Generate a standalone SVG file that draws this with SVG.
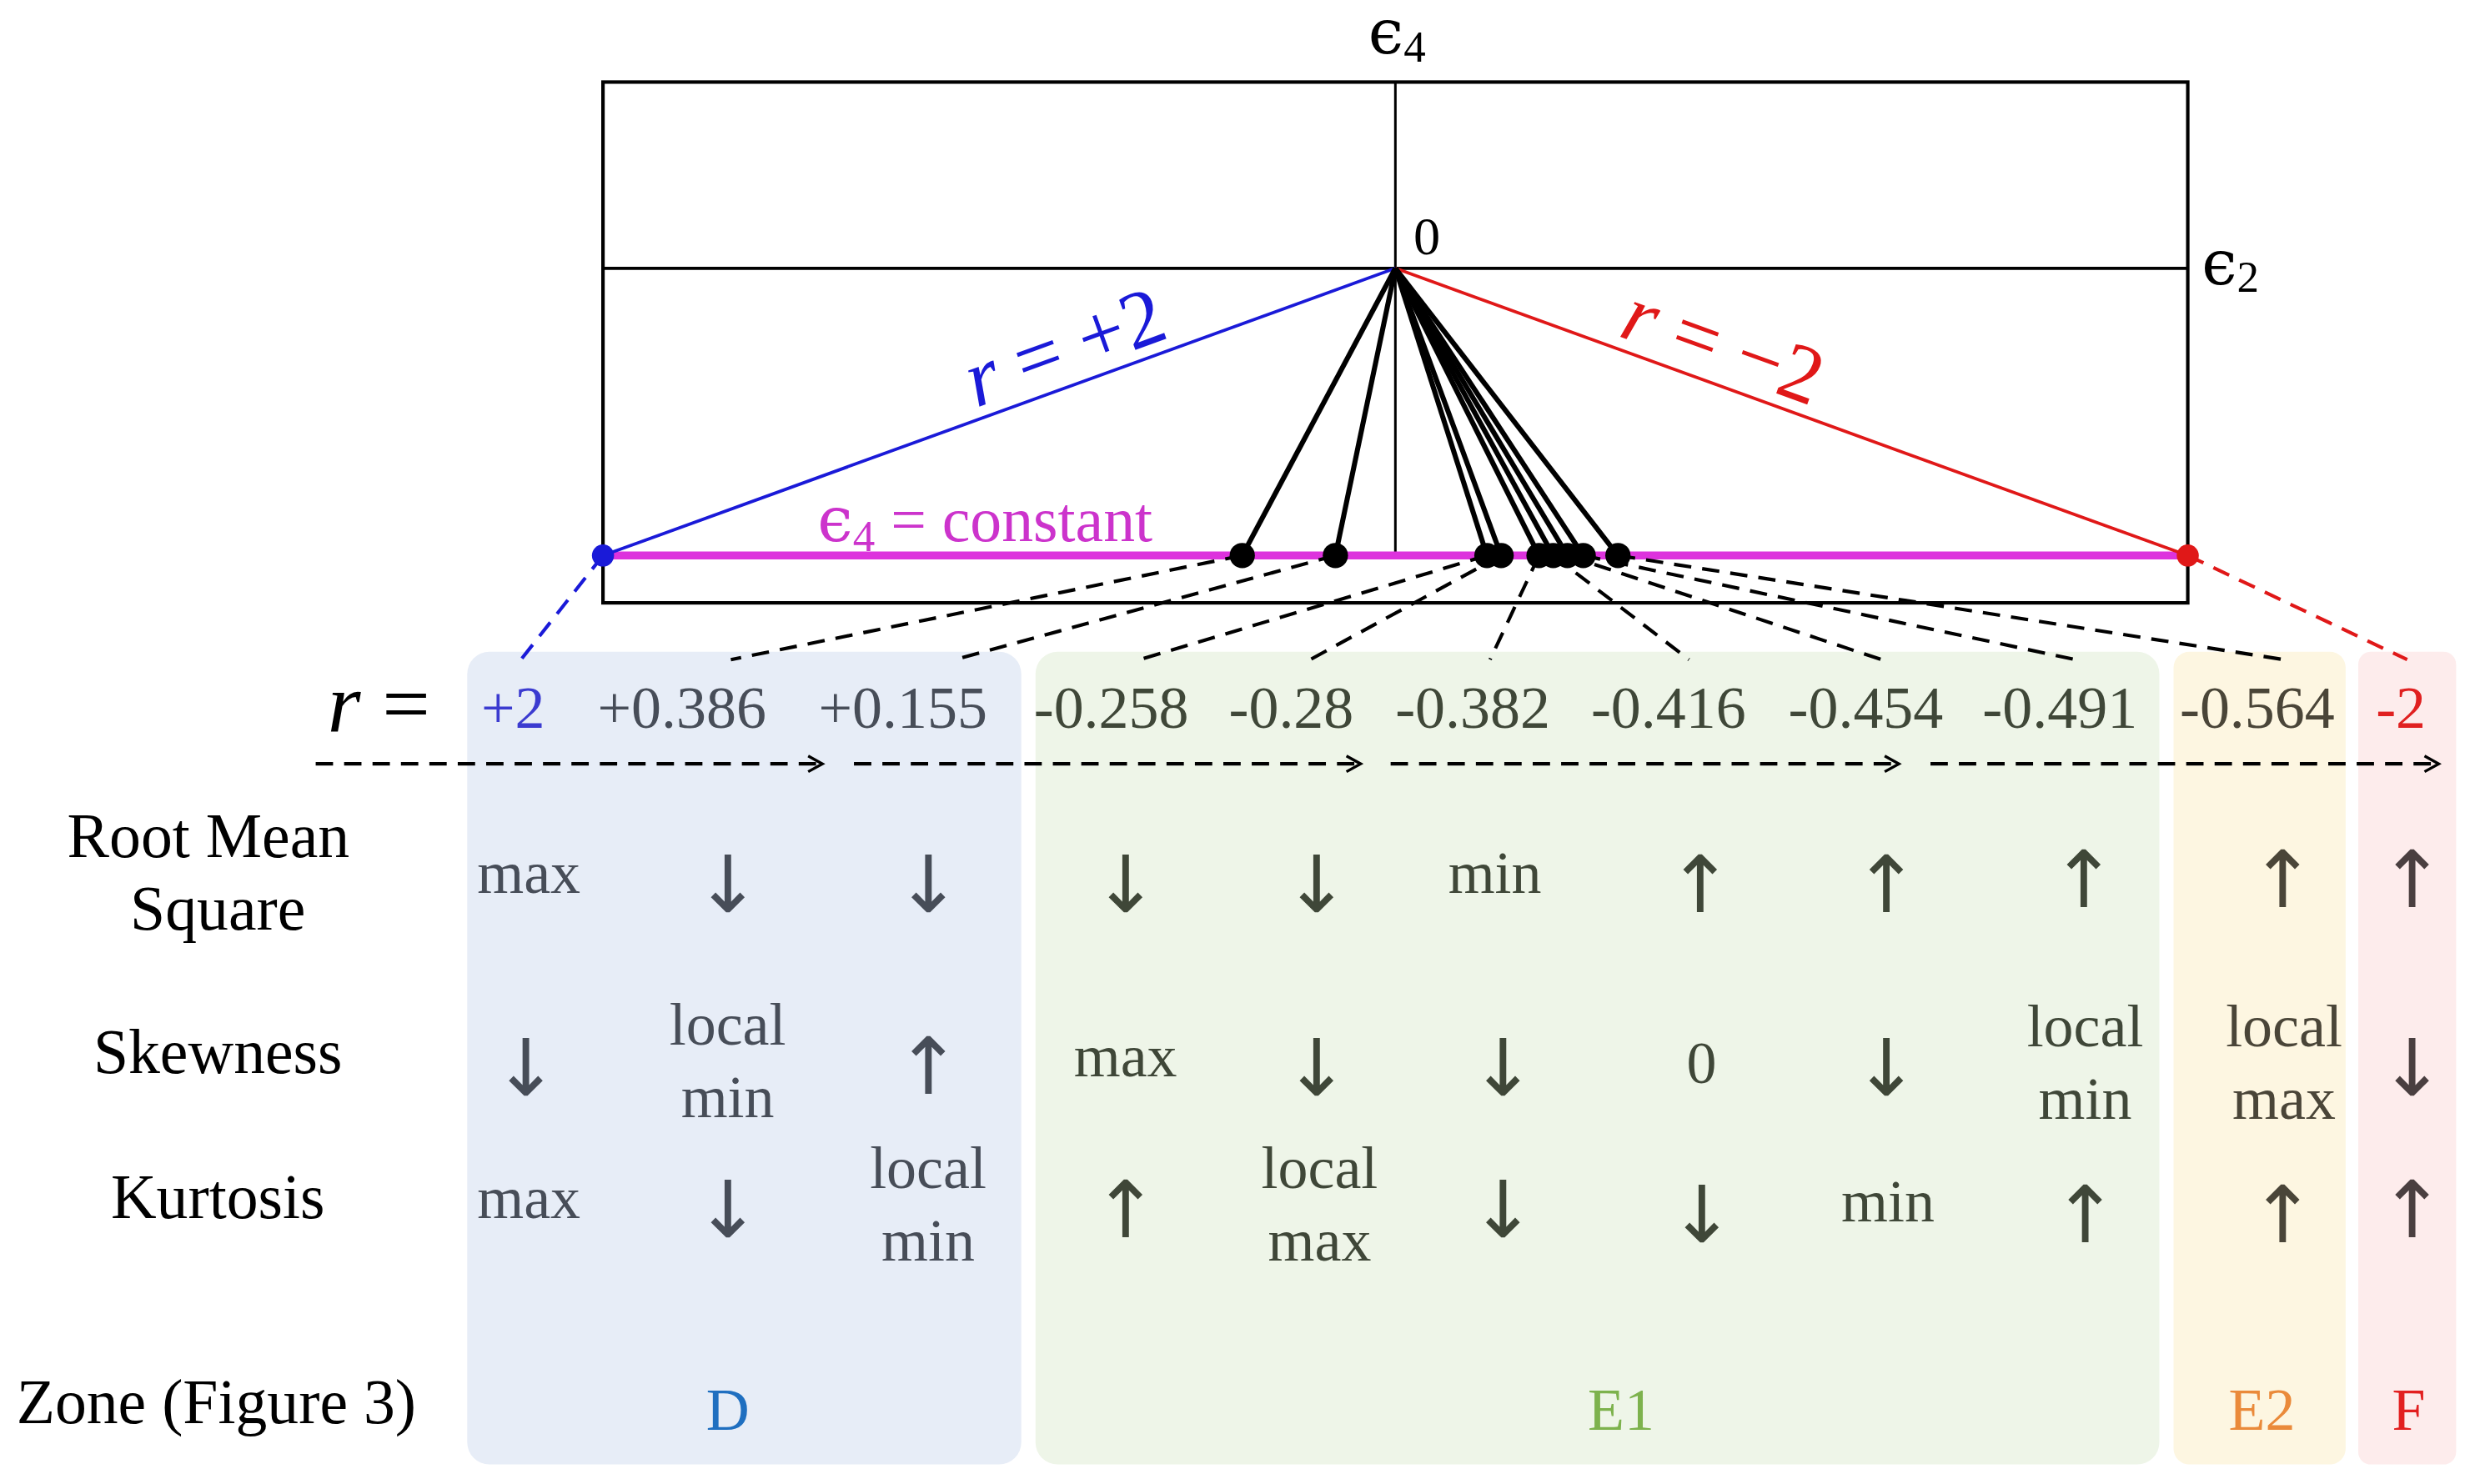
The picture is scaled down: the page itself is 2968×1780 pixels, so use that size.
<svg xmlns="http://www.w3.org/2000/svg" width="2968" height="1780" viewBox="0 0 2968 1780">
<style>
text{font-family:"Liberation Serif","DejaVu Serif",serif;text-anchor:middle}
.ep{font-family:"DejaVu Serif",serif}
.c{font-size:38px}
.lb{font-size:40px;fill:#000}
.ar{font-family:"DejaVu Sans",sans-serif;font-size:50px}
.bz{fill:#474d58}.gz{fill:#3f4738}.yz{fill:#4a4538}.pz{fill:#4a3f40}
.d{stroke:#000;stroke-width:2.2;stroke-dasharray:11 7;fill:none}
.sp{stroke:#000;stroke-width:3.2}
</style>
<defs><marker id="ah" markerWidth="12" markerHeight="12" refX="10" refY="6" orient="auto" markerUnits="userSpaceOnUse"><path d="M1,1 L10,6 L1,11" fill="none" stroke="#000" stroke-width="1.8"/></marker></defs>
<rect width="2968" height="1780" fill="#fff"/>
<g transform="scale(1.8929)">
<g id="zones">
<rect x="296" y="413" width="351" height="515" rx="14" fill="#e7edf7"/>
<rect x="656" y="413" width="712" height="515" rx="14" fill="#eef5e8"/>
<rect x="1377" y="413" width="109" height="515" rx="10" fill="#fdf6e1"/>
<rect x="1494" y="413" width="62" height="515" rx="8" fill="#fdecec"/>
</g>
<g id="chart">
<rect x="382" y="52" width="1004" height="330" fill="none" stroke="#000" stroke-width="2.2"/>
<line x1="382" y1="170" x2="1386" y2="170" stroke="#000" stroke-width="2"/>
<line x1="884" y1="52" x2="884" y2="352" stroke="#000" stroke-width="1.6"/>
<line x1="382" y1="352" x2="1386" y2="352" stroke="#dd33dd" stroke-width="5"/>
<line x1="884" y1="170" x2="382" y2="352" stroke="#1a1ad8" stroke-width="2"/>
<line x1="884" y1="170" x2="1386" y2="352" stroke="#e01818" stroke-width="2"/>
<text x="885" y="34" style="font-size:40px"><tspan class="ep">ϵ</tspan><tspan style="font-size:28px" dy="5">4</tspan></text>
<text x="904" y="161" style="font-size:34px">0</text>
<text x="1413" y="180" style="font-size:40px"><tspan class="ep">ϵ</tspan><tspan style="font-size:28px" dy="5">2</tspan></text>
<text transform="translate(680,236) rotate(-19.9)" style="font-size:52px;fill:#1a1ad8"><tspan font-style="italic">r</tspan> = +2</text>
<text transform="translate(1086,235) rotate(19.9)" style="font-size:52px;fill:#e01818"><tspan font-style="italic">r</tspan> = −2</text>
<text x="624" y="343" style="font-size:40px;fill:#cc33cc"><tspan class="ep">ϵ</tspan><tspan style="font-size:28px" dy="6">4</tspan><tspan dy="-6"> = constant</tspan></text>
</g>
<g id="connectors">
<line class="sp" x1="884" y1="170" x2="787" y2="352"/>
<line class="sp" x1="884" y1="170" x2="846" y2="352"/>
<line class="sp" x1="884" y1="170" x2="942" y2="352"/>
<line class="sp" x1="884" y1="170" x2="951" y2="352"/>
<line class="sp" x1="884" y1="170" x2="975" y2="352"/>
<line class="sp" x1="884" y1="170" x2="984" y2="352"/>
<line class="sp" x1="884" y1="170" x2="993" y2="352"/>
<line class="sp" x1="884" y1="170" x2="1003" y2="352"/>
<line class="sp" x1="884" y1="170" x2="1025" y2="352"/>
<line class="d" x1="382" y1="352" x2="330" y2="418" style="stroke:#1a1ad8"/>
<line class="d" x1="1386" y1="352" x2="1525" y2="418" style="stroke:#e01818"/>
<line class="d" x1="787" y1="352" x2="463" y2="418"/>
<line class="d" x1="846" y1="352" x2="605" y2="418"/>
<line class="d" x1="942" y1="352" x2="722" y2="418"/>
<line class="d" x1="951" y1="352" x2="830" y2="418"/>
<line class="d" x1="975" y1="352" x2="944" y2="418"/>
<line class="d" x1="984" y1="352" x2="1070" y2="418"/>
<line class="d" x1="993" y1="352" x2="1192" y2="418"/>
<line class="d" x1="1003" y1="352" x2="1315" y2="418"/>
<line class="d" x1="1025" y1="352" x2="1447" y2="418"/>
<line class="d" x1="200" y1="484" x2="521" y2="484" marker-end="url(#ah)"/>
<line class="d" x1="541" y1="484" x2="862" y2="484" marker-end="url(#ah)"/>
<line class="d" x1="881" y1="484" x2="1203" y2="484" marker-end="url(#ah)"/>
<line class="d" x1="1223" y1="484" x2="1545" y2="484" marker-end="url(#ah)"/>
</g>
<g id="dots">
<circle cx="382" cy="352" r="7" fill="#1a1ad8"/>
<circle cx="1386" cy="352" r="7" fill="#e01818"/>
<g fill="#000"><circle cx="787" cy="352" r="8"/><circle cx="846" cy="352" r="8"/><circle cx="942" cy="352" r="8"/><circle cx="951" cy="352" r="8"/><circle cx="975" cy="352" r="8"/><circle cx="984" cy="352" r="8"/><circle cx="993" cy="352" r="8"/><circle cx="1003" cy="352" r="8"/><circle cx="1025" cy="352" r="8"/></g>
</g>
<g id="r-row" class="c">
<text x="240" y="464" style="font-size:54px"><tspan font-style="italic">r</tspan> =</text>
<text x="325" y="461" style="fill:#3b3bd0">+2</text>
<text x="432" y="461" class="bz">+0.386</text>
<text x="572" y="461" class="bz">+0.155</text>
<text x="704" y="461" class="gz">-0.258</text>
<text x="818" y="461" class="gz">-0.28</text>
<text x="933" y="461" class="gz">-0.382</text>
<text x="1057" y="461" class="gz">-0.416</text>
<text x="1182" y="461" class="gz">-0.454</text>
<text x="1305" y="461" class="gz">-0.491</text>
<text x="1430" y="461" class="yz">-0.564</text>
<text x="1521" y="461" style="fill:#e02020">-2</text>
</g>
<g id="row-labels" class="lb">
<text x="132" y="543" class="lb">Root Mean</text>
<text x="138" y="589" class="lb">Square</text>
<text x="138" y="680" class="lb">Skewness</text>
<text x="138" y="772" class="lb">Kurtosis</text>
<text x="137" y="902" class="lb">Zone (Figure 3)</text>
</g>
<g id="rms" class="c">
<text x="335" y="566" class="bz">max</text>
<text x="461" y="578" class="ar bz">↓</text>
<text x="588" y="578" class="ar bz">↓</text>
<text x="713" y="578" class="ar gz">↓</text>
<text x="834" y="578" class="ar gz">↓</text>
<text x="947" y="566" class="gz">min</text>
<text x="1077" y="578" class="ar gz">↑</text>
<text x="1195" y="578" class="ar gz">↑</text>
<text x="1320" y="575" class="ar gz">↑</text>
<text x="1446" y="575" class="ar yz">↑</text>
<text x="1528" y="575" class="ar pz">↑</text>
</g>
<g id="skew" class="c">
<text x="333" y="694" class="ar bz">↓</text>
<text x="461" y="662" class="bz">local</text><text x="461" y="708" class="bz">min</text>
<text x="588" y="693" class="ar bz">↑</text>
<text x="713" y="682" class="gz">max</text>
<text x="834" y="694" class="ar gz">↓</text>
<text x="952" y="694" class="ar gz">↓</text>
<text x="1078" y="686" class="gz">0</text>
<text x="1195" y="694" class="ar gz">↓</text>
<text x="1321" y="663" class="gz">local</text><text x="1321" y="709" class="gz">min</text>
<text x="1447" y="663" class="yz">local</text><text x="1447" y="709" class="yz">max</text>
<text x="1528" y="694" class="ar pz">↓</text>
</g>
<g id="kurt" class="c">
<text x="335" y="772" class="bz">max</text>
<text x="461" y="784" class="ar bz">↓</text>
<text x="588" y="753" class="bz">local</text><text x="588" y="799" class="bz">min</text>
<text x="713" y="784" class="ar gz">↑</text>
<text x="836" y="753" class="gz">local</text><text x="836" y="799" class="gz">max</text>
<text x="952" y="784" class="ar gz">↓</text>
<text x="1078" y="787" class="ar gz">↓</text>
<text x="1196" y="774" class="gz">min</text>
<text x="1321" y="787" class="ar gz">↑</text>
<text x="1446" y="787" class="ar yz">↑</text>
<text x="1528" y="784" class="ar pz">↑</text>
</g>
<g id="zone-names" class="c">
<text x="461" y="906" style="fill:#1f6fc0">D</text>
<text x="1027" y="906" style="fill:#7db24d">E1</text>
<text x="1433" y="906" style="fill:#ea8a3a">E2</text>
<text x="1526" y="906" style="fill:#e22020">F</text>
</g>
</g>
</svg>
